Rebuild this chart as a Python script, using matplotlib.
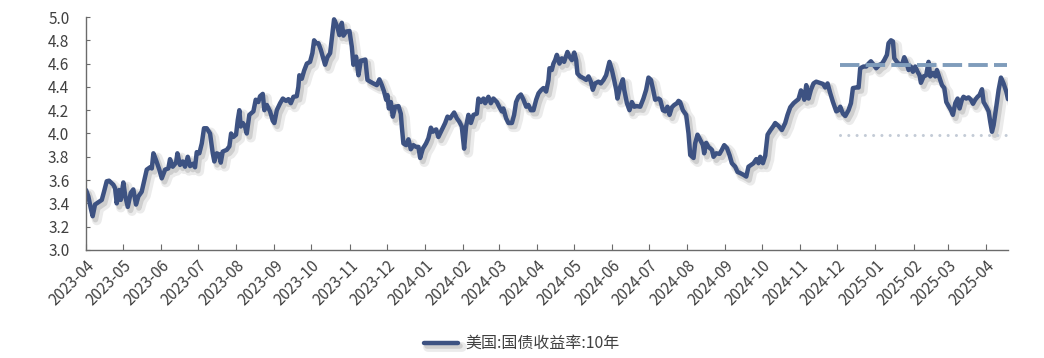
import pandas as pd
import matplotlib.pyplot as plt
import matplotlib.dates as mdates
import matplotlib.patheffects as pe
from matplotlib.ticker import MultipleLocator, FormatStrFormatter

plt.rcParams['font.family'] = ['Noto Sans CJK SC', 'DejaVu Sans']

# Giorni dal 2023-04-01 e rendimento del Treasury USA a 10 anni
base_date = '2023-04-01'
day_offset = [
    0, 1.9, 3.8, 5.4, 7.3, 10.0, 12.8, 14.6, 16.8, 18.7, 22.2, 23.6, 24.9, 27.0, 28.2,
    30.3, 31.9, 33.9, 36.3, 38.4, 40.6, 42.5, 45.2, 47.1, 49.3, 52.0, 53.4, 54.7, 56.9,
    59.5, 61.5, 64.2, 66.8, 68.2, 70.4, 73.1, 74.2, 76.3, 78.5, 80.4, 82.6, 84.5, 86.7,
    88.5, 89.9, 92.0, 94.0, 95.8, 98.0, 100.7, 102.9, 104.2, 106.2, 108.3, 109.4, 111.0,
    114.3, 116.4, 117.8, 119.6, 121.8, 123.2, 124.5, 125.6, 127.3, 129.1, 130.5, 132.6,
    135.9, 137.8, 139.9, 141.3, 143.5, 144.8, 146.8, 149.4, 151.6, 152.9, 154.9, 157.6,
    159.8, 162.4, 164.3, 166.3, 168.4, 171.1, 172.4, 173.2, 175.2, 177.1, 179.3, 181.9,
    183.8, 185.2, 186.8, 188.7, 190.6, 192.2, 194.1, 196.0, 198.2, 201.4, 204.1, 205.7,
    207.7, 209.0, 211.2, 213.9, 215.8, 217.1, 219.3, 221.2, 223.1, 225.2, 226.8, 228.5,
    230.7, 233.3, 236.1, 238.2, 240.2, 242.0, 243.7, 244.7, 245.9, 247.5, 249.1, 251.0,
    253.7, 255.6, 256.4, 257.7, 259.9, 261.8, 263.7, 265.8, 268.0, 269.9, 271.3, 273.5,
    276.1, 278.0, 280.0, 281.6, 284.3, 286.1, 288.9, 291.6, 293.5, 295.6, 298.9, 301.1,
    303.2, 305.1, 307.0, 308.6, 310.5, 312.5, 314.6, 317.3, 318.6, 320.6, 322.7, 324.1,
    326.7, 328.7, 330.8, 333.6, 335.7, 337.6, 338.9, 341.1, 343.0, 345.8, 347.6, 349.2,
    351.1, 353.1, 355.2, 357.4, 359.2, 361.2, 363.3, 365.5, 367.4, 369.3, 371.4, 373.6,
    375.5, 376.3, 378.2, 379.5, 380.9, 382.3, 384.4, 386.4, 388.2, 390.9, 392.5, 394.5,
    396.4, 398.0, 399.0, 401.2, 403.9, 406.1, 408.0, 409.9, 411.5, 413.4, 416.1, 418.0,
    420.2, 422.3, 425.0, 427.0, 428.8, 430.5, 431.5, 433.7, 435.9, 437.0, 439.2, 441.3,
    443.2, 445.1, 447.3, 450.0, 452.6, 454.8, 456.7, 458.7, 460.8, 462.1, 464.8, 466.2,
    468.4, 470.3, 472.1, 473.8, 475.7, 477.6, 479.8, 481.1, 482.4, 484.6, 487.3, 489.2,
    490.6, 493.3, 494.6, 496.5, 498.7, 500.9, 501.9, 503.6, 505.4, 508.2, 509.5, 511.7,
    514.4, 516.3, 518.2, 520.4, 522.5, 524.4, 527.1, 529.0, 531.2, 533.9, 536.1, 537.9,
    539.9, 542.0, 544.2, 546.0, 547.4, 549.6, 551.5, 553.4, 555.5, 558.2, 559.6, 562.3,
    565.0, 567.7, 569.6, 571.8, 574.5, 576.7, 578.5, 580.5, 582.1, 583.2, 584.8, 586.7,
    588.6, 590.7, 592.9, 595.6, 598.4, 600.2, 602.1, 604.3, 606.5, 609.2, 611.0, 612.4,
    614.6, 616.5, 619.1, 621.1, 622.7, 625.4, 627.3, 628.6, 631.3, 633.5, 635.4, 637.3,
    639.4, 641.6, 644.3, 646.3, 648.1, 650.3, 651.6, 653.6, 655.2, 656.3, 658.4, 660.6,
    662.5, 664.4, 666.0, 667.9, 669.8, 671.4, 673.3, 675.2, 676.8, 677.9, 680.1, 682.2,
    684.1, 685.5, 687.7, 689.6, 690.9, 693.1, 695.0, 696.9, 698.5, 700.4, 702.3, 703.9,
    705.8, 707.7, 709.3, 711.2, 712.5, 714.7, 716.6, 718.5, 720.2, 722.0, 723.9, 725.5,
    727.5, 728.8, 731.0, 732.9, 734.2, 735.6, 736.9, 739.1, 741.0, 742.9, 745.0, 747.2,
    748.6,
]
yield_10y = [
    3.515, 3.46, 3.36, 3.29, 3.39, 3.41, 3.43, 3.50, 3.59, 3.595, 3.56, 3.53, 3.40, 3.515, 3.43,
    3.58, 3.46, 3.37, 3.49, 3.52, 3.39, 3.46, 3.50, 3.59, 3.69, 3.71, 3.70, 3.83, 3.77,
    3.69, 3.615, 3.69, 3.70, 3.78, 3.715, 3.75, 3.83, 3.73, 3.76, 3.715, 3.80, 3.72, 3.74,
    3.71, 3.84, 3.83, 3.915, 4.045, 4.045, 4.00, 3.83, 3.76, 3.83, 3.82, 3.75, 3.845,
    3.86, 3.89, 4.00, 3.97, 3.99, 4.115, 4.20, 4.06, 4.09, 4.06, 4.00, 4.16,
    4.19, 4.29, 4.27, 4.32, 4.34, 4.20, 4.245, 4.19, 4.11, 4.09, 4.20, 4.26,
    4.30, 4.28, 4.295, 4.26, 4.315, 4.32, 4.40, 4.50, 4.47, 4.54, 4.60, 4.615,
    4.69, 4.80, 4.775, 4.775, 4.72, 4.66, 4.59, 4.655, 4.69, 4.98, 4.915, 4.845,
    4.95, 4.84, 4.875, 4.88, 4.745, 4.59, 4.66, 4.50, 4.625, 4.63, 4.635, 4.46,
    4.445, 4.43, 4.415, 4.465, 4.415, 4.36, 4.29, 4.33, 4.215, 4.27, 4.145, 4.23,
    4.235, 4.17, 4.06, 3.915, 3.90, 3.95, 3.865, 3.90, 3.885, 3.885, 3.79, 3.87,
    3.915, 3.96, 4.05, 4.015, 4.035, 3.97, 4.03, 4.09, 4.145, 4.13, 4.18, 4.13,
    4.10, 4.06, 3.87, 4.06, 4.16, 4.09, 4.16, 4.17, 4.30, 4.27, 4.30, 4.26,
    4.315, 4.26, 4.30, 4.27, 4.225, 4.19, 4.215, 4.13, 4.09, 4.09, 4.16, 4.27,
    4.315, 4.335, 4.29, 4.23, 4.245, 4.20, 4.20, 4.29, 4.345, 4.37, 4.39, 4.36,
    4.46, 4.56, 4.545, 4.60, 4.63, 4.675, 4.60, 4.645, 4.615, 4.70, 4.66, 4.63,
    4.695, 4.63, 4.515, 4.49, 4.475, 4.46, 4.49, 4.445, 4.375, 4.43, 4.445, 4.43,
    4.46, 4.50, 4.615, 4.545, 4.46, 4.375, 4.30, 4.40, 4.465, 4.375, 4.26, 4.20,
    4.27, 4.23, 4.235, 4.23, 4.30, 4.375, 4.48, 4.46, 4.36, 4.29, 4.30, 4.29,
    4.20, 4.19, 4.23, 4.16, 4.225, 4.245, 4.26, 4.28, 4.27, 4.20, 4.16, 4.00,
    3.815, 3.79, 3.915, 3.99, 3.945, 3.90, 3.83, 3.92, 3.885, 3.86, 3.80, 3.83,
    3.825, 3.86, 3.90, 3.875, 3.815, 3.745, 3.715, 3.67, 3.66, 3.645, 3.63, 3.715,
    3.73, 3.745, 3.78, 3.745, 3.80, 3.745, 3.81, 3.99, 4.025, 4.065, 4.09, 4.065,
    4.03, 4.09, 4.16, 4.225, 4.26, 4.28, 4.295, 4.37, 4.34, 4.29, 4.415, 4.30,
    4.375, 4.43, 4.445, 4.435, 4.425, 4.395, 4.43, 4.345, 4.27, 4.19, 4.20, 4.23,
    4.17, 4.15, 4.20, 4.26, 4.39, 4.395, 4.395, 4.56, 4.575, 4.575, 4.60, 4.62,
    4.59, 4.56, 4.59, 4.60, 4.63, 4.675, 4.775, 4.80, 4.79, 4.645, 4.615, 4.59,
    4.59, 4.655, 4.615, 4.545, 4.575, 4.53, 4.575, 4.53, 4.50, 4.435, 4.49, 4.50,
    4.615, 4.49, 4.52, 4.49, 4.545, 4.475, 4.415, 4.39, 4.27, 4.235, 4.20, 4.16,
    4.26, 4.30, 4.215, 4.29, 4.315, 4.30, 4.31, 4.29, 4.255, 4.29, 4.315, 4.33,
    4.38, 4.27, 4.23, 4.19, 4.10, 4.015, 4.07, 4.23, 4.375, 4.48, 4.43, 4.36,
    4.295,
]

# Livelli di riferimento (tratteggiato e puntinato) dal 2024-12 in poi
ref_start = '2024-12-03'
ref_end = '2025-04-18'
level_high = 4.59
level_low = 3.99

x_ticks = pd.date_range('2023-04-01', '2025-04-01', freq='MS')
legend_label = '美国:国债收益率:10年'

dates = pd.Timestamp(base_date) + pd.to_timedelta(day_offset, unit='D')

fig = plt.figure(figsize=(10.44, 3.58), dpi=100)
ax = fig.add_axes([0.0824, 0.3017, 0.8831, 0.6508])

line_color = '#3D5282'
ax.plot(dates, yield_10y, color=line_color, linewidth=3.2, label=legend_label,
        solid_joinstyle='round', solid_capstyle='round',
        path_effects=[pe.SimpleLineShadow(offset=(3, -3), shadow_color='#7a7a7a', alpha=0.15, linewidth=7),
                      pe.SimpleLineShadow(offset=(2, -2.5), shadow_color='#7a7a7a', alpha=0.25, linewidth=4),
                      pe.Normal()])

ref_x = [pd.Timestamp(ref_start), pd.Timestamp(ref_end)]
ax.plot(ref_x, [level_high, level_high], color='#7F9CBB', linewidth=2.8,
        linestyle=(0, (5, 1.6)))
ax.plot(ref_x, [level_low, level_low], color='#C3CBD6', linewidth=2.2,
        linestyle=(0, (0.01, 2.7)), dash_capstyle='round')

ax.set_ylim(3.0, 5.0)
ax.yaxis.set_major_locator(MultipleLocator(0.2))
ax.yaxis.set_major_formatter(FormatStrFormatter('%.1f'))
ax.set_xlim(pd.Timestamp(base_date), dates[-1])
ax.set_xticks(x_ticks)
ax.xaxis.set_major_formatter(mdates.DateFormatter('%Y-%m'))

for s in ['top', 'right']:
    ax.spines[s].set_visible(False)
for s in ['left', 'bottom']:
    ax.spines[s].set_color('#6b6b6b')
    ax.spines[s].set_linewidth(1.0)

ax.tick_params(axis='both', direction='in', colors='#6b6b6b', labelcolor='#404040')
ax.tick_params(axis='x', length=4, pad=5, labelsize=11)
ax.tick_params(axis='y', length=3, pad=12, labelsize=11)
plt.setp(ax.get_xticklabels(), rotation=45, ha='right', rotation_mode='anchor')

leg = fig.legend(loc='center', bbox_to_anchor=(0.5, 0.04), frameon=False, fontsize=11.5,
                 handlelength=2.1, handletextpad=0.5)
for t in leg.get_texts():
    t.set_color('#404040')

fig.savefig('out.png', dpi=100)
